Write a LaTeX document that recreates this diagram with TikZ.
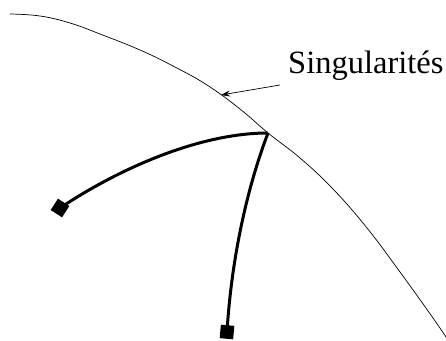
\documentclass[tikz,border=0pt]{standalone}
\usepackage{fontspec}
\newfontfamily\lserif{Liberation Serif}
\usetikzlibrary{arrows.meta}
\begin{document}
\begin{tikzpicture}[x=1pt,y=-1pt,
  thinline/.style={line width=0.7pt},
  thickline/.style={line width=3pt},
  endsq/.style={draw=none,fill=black,minimum size=13.5pt,inner sep=0pt,outer sep=0pt}]
\useasboundingbox (0,0) rectangle (446,340);
% singularity curve
\draw[thinline] plot[smooth,tension=0.7] coordinates {(10,14) (40,16) (70,23) (100,34) (140,50) (173,66) (207,85) (240,109) (268,133) (300,158) (333,189) (367,228) (400,272) (433,318) (448,340)};
% nodes
\coordinate (J) at (268,133);
\coordinate (T) at (221,95);
\node[endsq,rotate=-33] (A) at (60,208) {};
\node[endsq,rotate=-5] (B) at (227,332) {};
\node[anchor=base west,inner sep=0pt,font=\lserif\fontsize{32.5}{39}\selectfont] (L) at (288,73) {Singularités};
% label arrow
\coordinate (S) at (280,85);
\draw[thinline,-{Stealth[length=9pt,width=6pt]}] (S) -- (T);
% thick branches
\draw[thickline] (J) .. controls (200,133) and (120,168) .. (A.center);
\draw[thickline] (J) .. controls (250,180) and (232,250) .. (B.center);
\end{tikzpicture}
\end{document}
